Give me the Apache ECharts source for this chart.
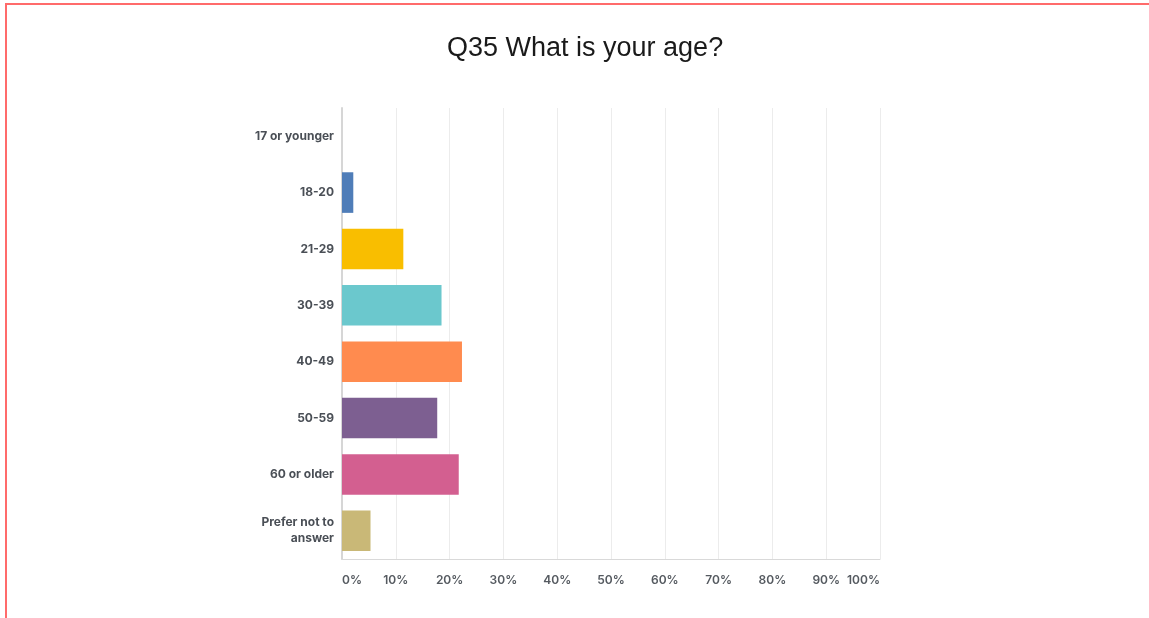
<!DOCTYPE html>
<html>
<head>
<meta charset="utf-8">
<script src="https://cdn.jsdelivr.net/npm/echarts@6/dist/echarts.min.js"></script>
<style>
  html, body { margin: 0; padding: 0; background: #fff; overflow: hidden; }
  #chart { position: absolute; left: 0; top: 0; width: 1149px; height: 618px; }
  #frame { position: absolute; left: 5px; top: 3px; width: 1200px; height: 700px;
           border: 2px solid #ff6b6b; pointer-events: none; }
</style>
</head>
<body>
<div id="chart"></div>
<div id="frame"></div>
<script>
// Age groups of respondents and share of answers (%)
const categories = ['17 or younger', '18-20', '21-29', '30-39', '40-49', '50-59', '60 or older', 'Prefer not to\nanswer'];
const shares = [0, 2.1, 11.4, 18.5, 22.3, 17.7, 21.7, 5.3];
const barColors = ['#4f7db8', '#4f7db8', '#f9be00', '#6bc8cd', '#ff8b4f', '#7d5f91', '#d35f90', '#c9b877'];
const titleText = 'Q35 What is your age?';

const chart = echarts.init(document.getElementById('chart'), null, { renderer: 'canvas' });

chart.setOption({
  animation: false,
  title: {
    text: titleText,
    left: 442,
    top: 30,
    textStyle: { fontFamily: 'Liberation Sans, Arial, sans-serif', fontSize: 27, fontWeight: 'normal', color: '#1a1a1a' }
  },
  grid: { left: 342, right: 269, top: 108, bottom: 59, containLabel: false },
  xAxis: {
    type: 'value',
    min: 0,
    max: 100,
    interval: 10,
    axisLine: { show: true, lineStyle: { color: '#d9d9d9', width: 1 } },
    axisTick: { show: false },
    splitLine: { show: true, lineStyle: { color: '#ececec', width: 1 } },
    axisLabel: {
      formatter: '{value}%',
      margin: 15,
      color: '#555a60',
      fontFamily: 'Inter, sans-serif',
      fontWeight: 600,
      fontSize: 12,
      alignMinLabel: 'left',
      alignMaxLabel: 'right'
    }
  },
  yAxis: {
    type: 'category',
    inverse: true,
    data: categories,
    axisLine: { show: true, lineStyle: { color: '#d6d6d6', width: 2 } },
    axisTick: { show: false },
    axisLabel: {
      margin: 8,
      color: '#4a4f56',
      fontFamily: 'Inter, sans-serif',
      fontWeight: 'bold',
      fontSize: 12,
      lineHeight: 16,
      align: 'right',
      padding: [3, 0, 0, 0]
    }
  },
  series: [{
    type: 'bar',
    data: shares.map((v, i) => ({ value: v, itemStyle: { color: barColors[i] } })),
    barCategoryGap: '28%',
    silent: true
  }]
});
</script>
</body>
</html>
